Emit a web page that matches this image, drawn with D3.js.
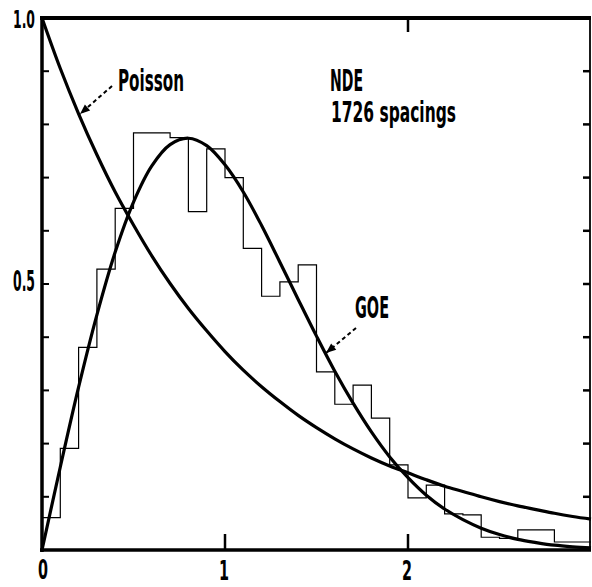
<!DOCTYPE html>
<html><head><meta charset="utf-8">
<script src="https://cdn.jsdelivr.net/npm/d3@7"></script>
<style>
html,body{margin:0;padding:0;background:#fff;}
svg{display:block;}
text{font-family:"Liberation Sans Narrow","DejaVu Sans Condensed","Liberation Sans",sans-serif;font-weight:bold;fill:#000;}
</style></head>
<body>
<svg id="chart" width="592" height="587"></svg>
<script>
// ---------- data ----------
const histLeft = [0.0,0.1,0.2,0.3,0.4,0.5,0.6,0.7,0.8,0.9,1.0,1.1,1.2,1.3,1.4,1.5,1.6,1.7,1.8,1.9,2.0,2.1,2.2,2.3,2.4,2.5,2.6,2.7,2.8,2.9];
const histValues = [0.061,0.191,0.381,0.528,0.642,0.784,0.784,0.775,0.636,0.754,0.700,0.567,0.477,0.504,0.536,0.335,0.274,0.310,0.248,0.160,0.098,0.122,0.068,0.066,0.024,0.022,0.038,0.038,0.015,0.015];
const binWidth = 0.1;
const curveS = [0,0.1,0.2,0.3,0.4,0.5,0.6,0.7,0.8,0.9,1.0,1.1,1.2,1.3,1.4,1.5,1.6,1.7,1.8,1.9,2.0,2.1,2.2,2.3,2.4,2.5,2.6,2.7,2.8,2.9,3.0];
const poissonValues = [1.0,0.905,0.820,0.743,0.673,0.611,0.553,0.501,0.454,0.412,0.373,0.338,0.307,0.279,0.253,0.230,0.209,0.190,0.173,0.158,0.145,0.132,0.120,0.110,0.100,0.091,0.083,0.076,0.069,0.063,0.058];
const goeValues = [0.0,0.156,0.306,0.442,0.560,0.654,0.722,0.762,0.774,0.760,0.724,0.673,0.610,0.541,0.471,0.402,0.336,0.276,0.222,0.175,0.136,0.103,0.077,0.057,0.041,0.029,0.020,0.014,0.009,0.006,0.004];
const xTickLabels = ["0","1","2"];
const yTickLabels = ["1.0","0.5"];
const xDomain = [0,3], yDomain = [0,1];

// ---------- scales ----------
const svg = d3.select("#chart");
const x = d3.scaleLinear().domain(xDomain).range([42, 591]);
const y = d3.scaleLinear().domain(yDomain).range([550, 18]);

// ---------- histogram ----------
const hpts = [[0,0]];
histLeft.forEach((s,i)=>{ hpts.push([s,histValues[i]]); hpts.push([s+binWidth,histValues[i]]); });
svg.append("path")
  .attr("d", d3.line().x(d=>x(d[0])).y(d=>y(d[1])).curve(d3.curveLinear)(hpts))
  .attr("fill","none").attr("stroke","#000").attr("stroke-width",1.2);

// ---------- curves ----------
const line = d3.line().x(d=>x(d[0])).y(d=>y(d[1])).curve(d3.curveCatmullRom);
svg.append("path").attr("d", line(curveS.map((s,i)=>[s,poissonValues[i]])))
  .attr("fill","none").attr("stroke","#000").attr("stroke-width",3.2);
svg.append("path").attr("d", line(curveS.map((s,i)=>[s,goeValues[i]])))
  .attr("fill","none").attr("stroke","#000").attr("stroke-width",3.2);

// ---------- frame ----------
const g = svg.append("g");
g.append("line").attr("x1",x(0)).attr("x2",x(0)).attr("y1",y(1)-2).attr("y2",y(0)+2).attr("stroke","#000").attr("stroke-width",3.5);
g.append("line").attr("x1",x(0)-2).attr("x2",x(3)).attr("y1",y(0)).attr("y2",y(0)).attr("stroke","#000").attr("stroke-width",3.5);
g.append("line").attr("x1",x(0)-2).attr("x2",x(3)).attr("y1",y(1)).attr("y2",y(1)).attr("stroke","#000").attr("stroke-width",4);
g.append("line").attr("x1",x(3)-1).attr("x2",x(3)-1).attr("y1",y(1)).attr("y2",y(0)).attr("stroke","#000").attr("stroke-width",1.8);

// y ticks (left and right, inward)
const yt = d3.range(1,10).map(i=>i/10);
yt.forEach(v=>{
  g.append("line").attr("x1",x(0)).attr("x2",x(0)+7).attr("y1",y(v)).attr("y2",y(v)).attr("stroke","#000").attr("stroke-width",2);
  g.append("line").attr("x1",x(3)-1).attr("x2",x(3)-8).attr("y1",y(v)).attr("y2",y(v)).attr("stroke","#000").attr("stroke-width",2.5);
});
// x ticks
[1,2].forEach(v=>{
  g.append("line").attr("x1",x(v)).attr("x2",x(v)).attr("y1",y(0)).attr("y2",y(0)-16).attr("stroke","#000").attr("stroke-width",2.5);
});
g.append("line").attr("x1",x(2)).attr("x2",x(2)).attr("y1",y(1)).attr("y2",y(1)+14).attr("stroke","#000").attr("stroke-width",2.5);

// tick labels
const xlabBase = [579,580,580];
xTickLabels.forEach((t,i)=>{
  svg.append("text").attr("x",x(+t)+(i===0?1:-1)).attr("y",xlabBase[i])
    .attr("text-anchor","middle").attr("font-size",27)
    .attr("textLength",10).attr("lengthAdjust","spacingAndGlyphs").text(t);
});
const ylabY = [28,291];
yTickLabels.forEach((t,i)=>{
  svg.append("text").attr("x",35).attr("y",ylabY[i]).attr("text-anchor","end")
    .attr("font-size",i===0?25:28)
    .attr("textLength",22).attr("lengthAdjust","spacingAndGlyphs").text(t);
});

// annotations
function label(t,xx,yy,fs,len){
  svg.append("text").attr("x",xx).attr("y",yy).attr("font-size",fs)
    .attr("textLength",len).attr("lengthAdjust","spacingAndGlyphs").text(t);
}
label("Poisson",118,91,31,66);
label("NDE",330,91,31,33);
label("1726  spacings",331,122,29,125);
label("GOE",355,318,30,34);

// arrows
function arrow(x1,y1,x2,y2){
  svg.append("line").attr("x1",x1).attr("y1",y1).attr("x2",x2).attr("y2",y2)
    .attr("stroke","#000").attr("stroke-width",2).attr("stroke-dasharray","4,3");
  const a = Math.atan2(y2-y1,x2-x1), L=10, W=4;
  const bx = x2 - L*Math.cos(a), by = y2 - L*Math.sin(a);
  const p = [[x2,y2],[bx + W*Math.sin(a), by - W*Math.cos(a)],[bx - W*Math.sin(a), by + W*Math.cos(a)]];
  svg.append("path").attr("d","M"+p.map(q=>q.join(",")).join("L")+"Z").attr("fill","#000");
}
arrow(112,86,80,114);
arrow(356,328,326,353);
</script>
</body></html>
